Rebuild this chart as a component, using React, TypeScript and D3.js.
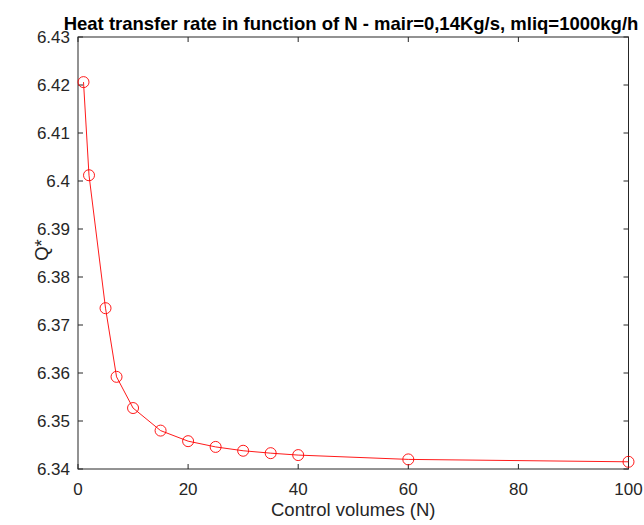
import React from "react";
import * as d3 from "d3";

const N = [1, 2, 5, 7, 10, 15, 20, 25, 30, 35, 40, 60, 100];
const Q = [6.4206, 6.4012, 6.3735, 6.3592, 6.3527, 6.348, 6.3458, 6.3446, 6.3438, 6.3433, 6.3429, 6.342, 6.3415];
const xTicks = [0, 20, 40, 60, 80, 100];
const yTicks = [6.34, 6.35, 6.36, 6.37, 6.38, 6.39, 6.4, 6.41, 6.42, 6.43];
const title = "Heat transfer rate in function of N - mair=0,14Kg/s, mliq=1000kg/h";
const xLabel = "Control volumes (N)";
const yLabel = "Q*";

const W = 644, H = 525;
const L = 78, R = 628.5, T = 37, B = 469;
const axisColor = "#262626";
const red = "#ff0000";
const font = "'Liberation Sans', Arial, Helvetica, sans-serif";

export default function App() {
  const x = d3.scaleLinear().domain([0, 100]).range([L, R]);
  const y = d3.scaleLinear().domain([6.34, 6.43]).range([B, T]);
  const line = d3.line<number>().x((_, i) => x(N[i])).y((d) => y(d));
  const tl = 5;
  return (
    <svg width={W} height={H} style={{ position: "absolute", left: 0, top: 0, background: "#fff" }} fontFamily={font}>
      <rect x={0} y={0} width={W} height={H} fill="#fff" />
      <rect x={L} y={T} width={R - L} height={B - T} fill="#fff" stroke={axisColor} strokeWidth={1} />
      {xTicks.map((t) => (
        <g key={"x" + t}>
          <line x1={x(t)} x2={x(t)} y1={B} y2={B - tl} stroke={axisColor} />
          <line x1={x(t)} x2={x(t)} y1={T} y2={T + tl} stroke={axisColor} />
          <text x={x(t)} y={B + 26} textAnchor="middle" fontSize={17} fill={axisColor}>{t}</text>
        </g>
      ))}
      {yTicks.map((t) => (
        <g key={"y" + t}>
          <line x1={L} x2={L + tl} y1={y(t)} y2={y(t)} stroke={axisColor} />
          <line x1={R} x2={R - tl} y1={y(t)} y2={y(t)} stroke={axisColor} />
          <text x={L - 8} y={y(t) + 6} textAnchor="end" fontSize={17} fill={axisColor}>{d3.format("")(+t.toFixed(2))}</text>
        </g>
      ))}
      <path d={line(Q) || ""} fill="none" stroke={red} strokeWidth={0.9} />
      {Q.map((q, i) => (
        <circle key={i} cx={x(N[i])} cy={y(q)} r={5.5} fill="none" stroke={red} strokeWidth={0.9} />
      ))}
      <text x={351} y={30} textAnchor="middle" fontSize={18.5} fontWeight="bold" fill="#000">{title}</text>
      <text x={(L + R) / 2} y={516} textAnchor="middle" fontSize={18.5} fill={axisColor}>{xLabel}</text>
      <text transform={`translate(48,${(T + B) / 2 - 3}) rotate(-90)`} textAnchor="middle" fontSize={18.5} fill={axisColor}>{yLabel}</text>
    </svg>
  );
}
